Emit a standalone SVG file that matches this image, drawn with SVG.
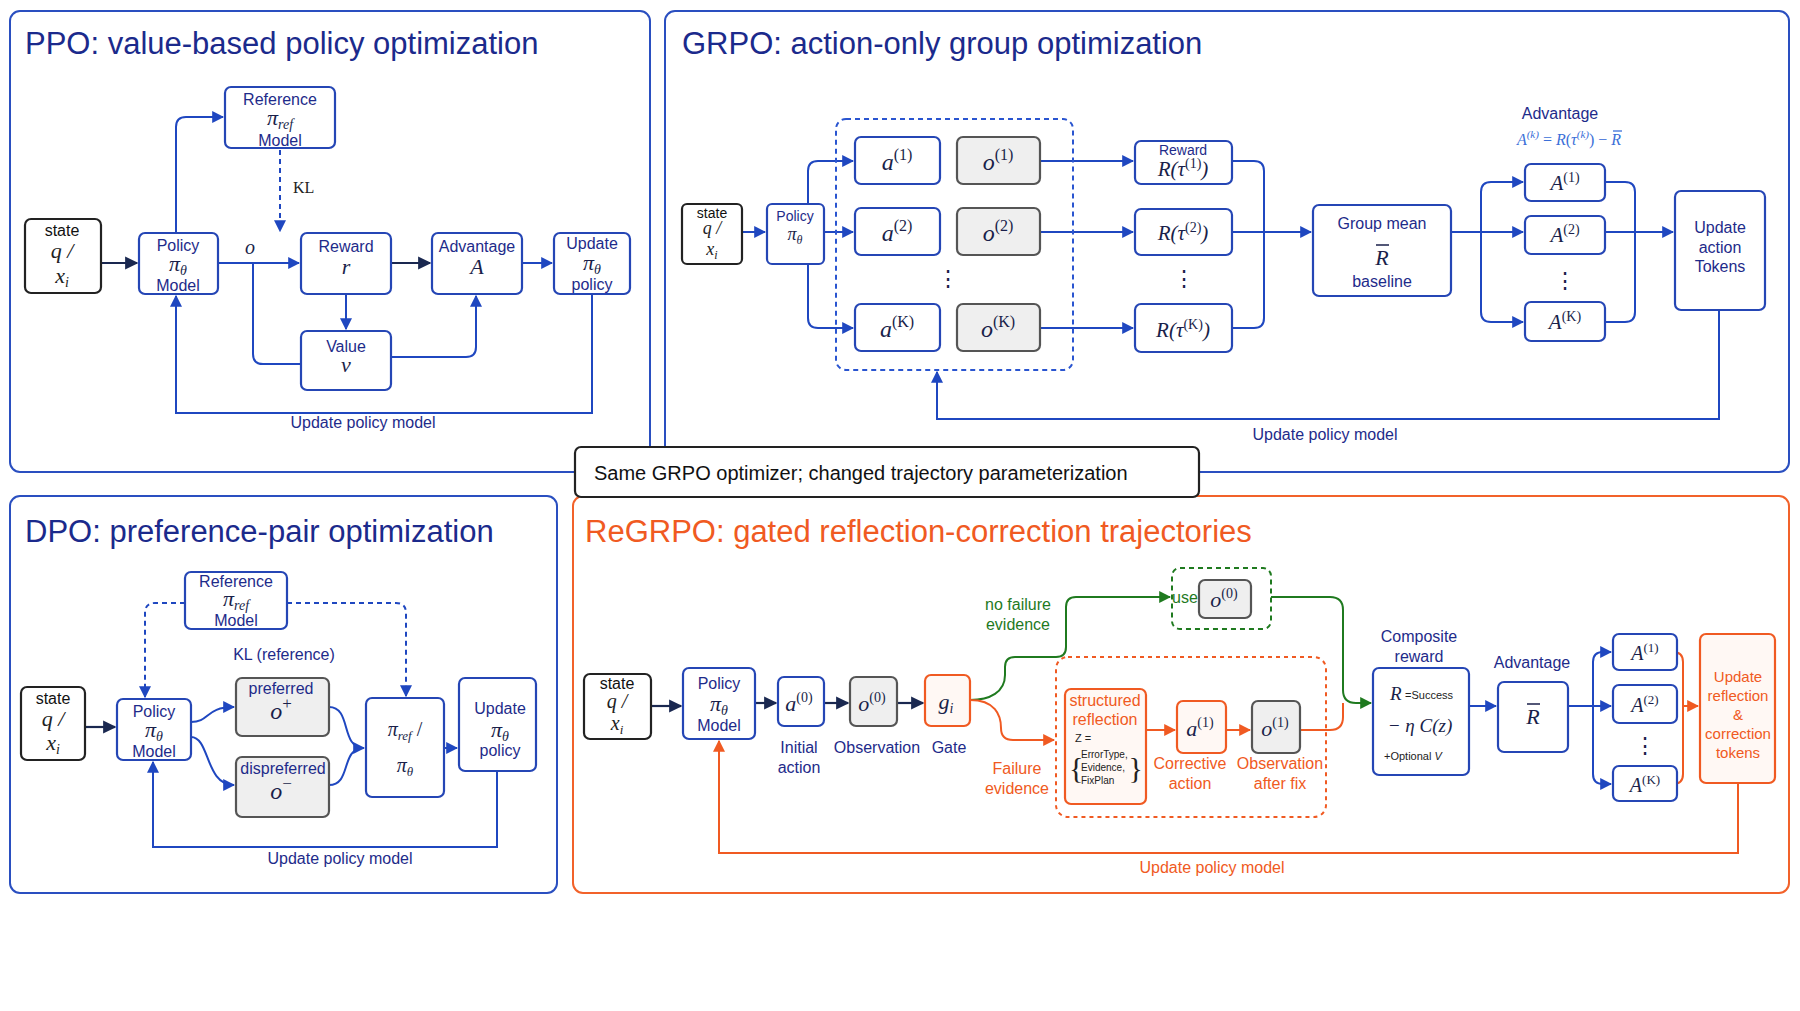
<svg xmlns="http://www.w3.org/2000/svg" width="1800" height="1011" viewBox="0 0 1800 1011">
<style>
.pn{fill:#fff;stroke:#2a4fc0;stroke-width:2}
.po{fill:#fff;stroke:#f2622a;stroke-width:2}
.bx{fill:#fff;stroke:#2546b5;stroke-width:2.2}
.gy{fill:#efefef;stroke:#555;stroke-width:2.2}
.bk{fill:#fff;stroke:#222;stroke-width:2.2}
.ob{fill:#fff8f4;stroke:#f05a22;stroke-width:2.2}
.title{font-family:"Liberation Sans",Arial,sans-serif;font-size:31px;fill:#1b2a8c}
.t{font-family:"Liberation Sans",Arial,sans-serif;font-size:16px;fill:#1e2b8a;text-anchor:middle}
.tk{font-family:"Liberation Sans",Arial,sans-serif;font-size:16px;fill:#111;text-anchor:middle}
.to{font-family:"Liberation Sans",Arial,sans-serif;font-size:16px;fill:#f05a22;text-anchor:middle}
.tg{font-family:"Liberation Sans",Arial,sans-serif;font-size:16px;fill:#1f7a1f;text-anchor:middle}
.m{font-family:"Liberation Serif","Times New Roman",serif;font-style:italic;font-size:22px;fill:#1a1f4a;text-anchor:middle}
.c{fill:none;stroke:#1f47c0;stroke-width:2}
.cd{fill:none;stroke:#1f47c0;stroke-width:2;stroke-dasharray:5 4}
.ck{fill:none;stroke:#1a2850;stroke-width:2.2}
.co{fill:none;stroke:#f05a22;stroke-width:2}
.cg{fill:none;stroke:#1f7a1f;stroke-width:2}
.bar{stroke:#1a1f4a;stroke-width:1.5}
</style>
<defs>
<marker id="ab" viewBox="0 0 10 10" refX="9" refY="5" markerWidth="6" markerHeight="6" orient="auto"><path d="M0,0L10,5L0,10z" fill="#1f47c0"/></marker>
<marker id="ak" viewBox="0 0 10 10" refX="9" refY="5" markerWidth="6" markerHeight="6" orient="auto"><path d="M0,0L10,5L0,10z" fill="#1a2850"/></marker>
<marker id="ao" viewBox="0 0 10 10" refX="9" refY="5" markerWidth="6" markerHeight="6" orient="auto"><path d="M0,0L10,5L0,10z" fill="#f05a22"/></marker>
<marker id="ag" viewBox="0 0 10 10" refX="9" refY="5" markerWidth="6" markerHeight="6" orient="auto"><path d="M0,0L10,5L0,10z" fill="#1f7a1f"/></marker>
</defs>
<rect width="1800" height="1011" fill="#fff"/>

<g id="panels">
<rect class="pn" x="10" y="11" width="640" height="461" rx="10"/>
<rect class="pn" x="665" y="11" width="1124" height="461" rx="10"/>
<rect class="pn" x="10" y="496" width="547" height="397" rx="10"/>
<rect class="po" x="573" y="496" width="1216" height="397" rx="10"/>
<text class="title" x="25" y="54">PPO: value-based policy optimization</text>
<text class="title" x="682" y="54">GRPO: action-only group optimization</text>
<text class="title" x="25" y="542">DPO: preference-pair optimization</text>
<text class="title" x="585" y="542" style="fill:#f05a22">ReGRPO: gated reflection-correction trajectories</text>
</g>
<g id="banner">
<rect x="575" y="447" width="624" height="50" rx="6" fill="#fff" stroke="#222" stroke-width="2.2"/>
<text x="594" y="480" style="font-family:'Liberation Sans',Arial,sans-serif;font-size:20px;fill:#111">Same GRPO optimizer; changed trajectory parameterization</text>
</g>

<g id="connectors">
<path class="ck" d="M101,263H137" marker-end="url(#ak)"/>
<path class="c" d="M176,233V127q0,-10 10,-10H223" marker-end="url(#ab)"/>
<path class="cd" d="M280,150V231" marker-end="url(#ab)"/>
<path class="c" d="M218,263H299" marker-end="url(#ab)"/>
<path class="c" d="M253,263V354q0,10 10,10H301"/>
<path class="c" d="M346,294V329" marker-end="url(#ab)"/>
<path class="ck" d="M391,263H430" marker-end="url(#ak)"/>
<path class="c" d="M391,357H466q10,0 10,-10V296" marker-end="url(#ab)"/>
<path class="c" d="M522,263H552" marker-end="url(#ab)"/>
<path class="c" d="M592,294V413H176V296" marker-end="url(#ab)"/>
<path class="c" d="M742,232H765" marker-end="url(#ab)"/>
<path class="c" d="M808,204V171q0,-10 10,-10H853" marker-end="url(#ab)"/>
<path class="c" d="M824,232H853" marker-end="url(#ab)"/>
<path class="c" d="M808,264V318q0,10 10,10H853" marker-end="url(#ab)"/>
<path class="c" d="M1040,161H1133" marker-end="url(#ab)"/>
<path class="c" d="M1040,232H1133" marker-end="url(#ab)"/>
<path class="c" d="M1040,328H1133" marker-end="url(#ab)"/>
<path class="c" d="M1232,161H1254q10,0 10,10V318q0,10 -10,10H1232"/>
<path class="c" d="M1232,232H1311" marker-end="url(#ab)"/>
<path class="c" d="M1451,232H1523" marker-end="url(#ab)"/>
<path class="c" d="M1523,182H1491q-10,0 -10,10V312q0,10 10,10H1523" marker-end="url(#ab)"/>
<path class="c" d="M1491,182H1523" marker-end="url(#ab)"/>
<path class="c" d="M1605,182H1625q10,0 10,10V312q0,10 -10,10H1605"/>
<path class="c" d="M1605,232H1673" marker-end="url(#ab)"/>
<path class="c" d="M1719,310V419H937V372" marker-end="url(#ab)"/>
<path class="ck" d="M85,727H115" marker-end="url(#ak)"/>
<path class="cd" d="M185,603H155q-10,0 -10,10V697" marker-end="url(#ab)"/>
<path class="cd" d="M287,603H396q10,0 10,10V696" marker-end="url(#ab)"/>
<path class="c" d="M191,722C210,722 205,707 234,707" marker-end="url(#ab)"/>
<path class="c" d="M191,737C210,737 205,785 234,785" marker-end="url(#ab)"/>
<path class="c" d="M329,707C352,707 340,748 364,748" marker-end="url(#ab)"/>
<path class="c" d="M329,785C352,785 340,748 364,748"/>
<path class="c" d="M444,748H457" marker-end="url(#ab)"/>
<path class="c" d="M497,771V847H153V762" marker-end="url(#ab)"/>
<path class="ck" d="M651,706H681" marker-end="url(#ak)"/>
<path class="ck" d="M755,703H776" marker-end="url(#ak)"/>
<path class="ck" d="M824,703H848" marker-end="url(#ak)"/>
<path class="ck" d="M897,703H923" marker-end="url(#ak)"/>
<path class="cg" d="M970,700C990,700 1005,692 1005,675V667q0,-10 10,-10H1056q10,0 10,-10V607q0,-10 10,-10H1170" marker-end="url(#ag)"/>
<path class="cg" d="M1271,597H1330q13,0 13,13V690q0,13 13,13H1371" marker-end="url(#ag)"/>
<path class="co" d="M970,700C995,700 1001,715 1001,728q0,12 12,12H1054" marker-end="url(#ao)"/>
<path class="co" d="M1146,730H1175" marker-end="url(#ao)"/>
<path class="co" d="M1226,730H1250" marker-end="url(#ao)"/>
<path class="co" d="M1300,730H1330q13,0 13,-13V703"/>
<path class="c" d="M1469,706H1496" marker-end="url(#ab)"/>
<path class="c" d="M1568,706H1611" marker-end="url(#ab)"/>
<path class="c" d="M1611,652H1603q-10,0 -10,10V774q0,10 10,10H1611" marker-end="url(#ab)"/>
<path class="c" d="M1600,652H1611" marker-end="url(#ab)"/>
<path class="co" d="M1677,652H1673q10,0 10,10V774q0,10 -10,10H1677"/>
<path class="co" d="M1683,706H1698" marker-end="url(#ao)"/>
<path class="co" d="M1738,783V853H719V741" marker-end="url(#ao)"/>
</g>

<g id="edge-labels">
<text class="m" x="250" y="254" style="font-size:20px">o</text>
<text x="293" y="193" style="font-family:'Liberation Serif',serif;font-size:16px;fill:#222">KL</text>
<text class="t" x="363" y="428">Update policy model</text>
<text class="t" x="1325" y="440">Update policy model</text>
<text class="t" x="284" y="660">KL (reference)</text>
<text class="t" x="340" y="864">Update policy model</text>
<text class="to" x="1212" y="873">Update policy model</text>
<text class="tg" x="1018" y="610">no failure</text>
<text class="tg" x="1018" y="630">evidence</text>
<text class="to" x="1017" y="774">Failure</text>
<text class="to" x="1017" y="794">evidence</text>
<text class="t" x="799" y="753">Initial</text>
<text class="t" x="799" y="773">action</text>
<text class="t" x="877" y="753">Observation</text>
<text class="t" x="949" y="753">Gate</text>
<text class="to" x="1190" y="769">Corrective</text>
<text class="to" x="1190" y="789">action</text>
<text class="to" x="1280" y="769">Observation</text>
<text class="to" x="1280" y="789">after fix</text>
<text class="t" x="1419" y="642">Composite</text>
<text class="t" x="1419" y="662">reward</text>
<text class="t" x="1532" y="668">Advantage</text>
<text class="t" x="1560" y="119">Advantage</text>
<text class="m" x="1569" y="145" style="font-size:16px;fill:#3b6fd8"><tspan>A</tspan><tspan font-size="11" dy="-7">(k)</tspan><tspan dy="7" font-style="normal"> = </tspan><tspan>R</tspan><tspan font-style="normal">(</tspan><tspan>τ</tspan><tspan font-size="11" dy="-7">(k)</tspan><tspan dy="7" font-style="normal">) − </tspan><tspan>R</tspan></text>
<line x1="1613" y1="131" x2="1622" y2="131" stroke="#3b6fd8" stroke-width="1.3"/>
</g>

<g id="ppo-state"><rect class="bk" x="25" y="219" width="76" height="74" rx="6"/><text class="tk" x="62" y="236">state</text><text class="m" x="62" y="258" style="fill:#222">q /</text><text class="m" x="62" y="283" style="fill:#222">x<tspan font-size="14" dy="4">i</tspan></text></g>
<g id="ppo-policy"><rect class="bx" x="139" y="233" width="79" height="61" rx="6"/><text class="t" x="178" y="251">Policy</text><text class="m" x="178" y="271">π<tspan font-size="14" dy="4">θ</tspan></text><text class="t" x="178" y="291">Model</text></g>
<g id="ppo-ref"><rect class="bx" x="225" y="87" width="110" height="61" rx="6"/><text class="t" x="280" y="105">Reference</text><text class="m" x="280" y="125">π<tspan font-size="14" dy="4">ref</tspan></text><text class="t" x="280" y="146">Model</text></g>
<g id="ppo-reward"><rect class="bx" x="301" y="233" width="90" height="61" rx="6"/><text class="t" x="346" y="252">Reward</text><text class="m" x="346" y="274">r</text></g>
<g id="ppo-adv"><rect class="bx" x="432" y="233" width="90" height="61" rx="6"/><text class="t" x="477" y="252">Advantage</text><text class="m" x="477" y="274">A</text></g>
<g id="ppo-update"><rect class="bx" x="554" y="233" width="76" height="61" rx="6"/><text class="t" x="592" y="249">Update</text><text class="m" x="592" y="270">π<tspan font-size="14" dy="4">θ</tspan></text><text class="t" x="592" y="290">policy</text></g>
<g id="ppo-value"><rect class="bx" x="301" y="331" width="90" height="59" rx="6"/><text class="t" x="346" y="352">Value</text><text class="m" x="346" y="372">v</text></g>

<g id="grpo-state"><rect class="bk" x="682" y="204" width="60" height="60" rx="5"/><text class="tk" x="712" y="218" style="font-size:14px">state</text><text class="m" x="712" y="234" style="fill:#222;font-size:18px">q /</text><text class="m" x="712" y="255" style="fill:#222;font-size:18px">x<tspan font-size="12" dy="4">i</tspan></text></g>
<g id="grpo-policy"><rect class="bx" x="767" y="204" width="57" height="60" rx="5"/><text class="t" x="795" y="221" style="font-size:14px">Policy</text><text class="m" x="795" y="240" style="font-size:18px">π<tspan font-size="12" dy="4">θ</tspan></text></g>
<g id="grpo-group"><rect x="836" y="119" width="237" height="251" rx="10" fill="none" stroke="#2a55d0" stroke-width="2" stroke-dasharray="5 4"/></g>
<g id="grpo-a1"><rect class="bx" x="855" y="137" width="85" height="47" rx="6"/><text class="m" x="897" y="170" style="font-size:24px">a<tspan font-size="16" dy="-10" font-style="normal">(1)</tspan></text></g>
<g id="grpo-a2"><rect class="bx" x="855" y="208" width="85" height="47" rx="6"/><text class="m" x="897" y="241" style="font-size:24px">a<tspan font-size="16" dy="-10" font-style="normal">(2)</tspan></text></g>
<g id="grpo-aK"><rect class="bx" x="855" y="304" width="85" height="47" rx="6"/><text class="m" x="897" y="337" style="font-size:24px">a<tspan font-size="16" dy="-10" font-style="normal">(K)</tspan></text></g>
<g id="grpo-o1"><rect class="gy" x="957" y="137" width="83" height="47" rx="6"/><text class="m" x="998" y="170" style="font-size:24px">o<tspan font-size="16" dy="-10" font-style="normal">(1)</tspan></text></g>
<g id="grpo-o2"><rect class="gy" x="957" y="208" width="83" height="47" rx="6"/><text class="m" x="998" y="241" style="font-size:24px">o<tspan font-size="16" dy="-10" font-style="normal">(2)</tspan></text></g>
<g id="grpo-oK"><rect class="gy" x="957" y="304" width="83" height="47" rx="6"/><text class="m" x="998" y="337" style="font-size:24px">o<tspan font-size="16" dy="-10" font-style="normal">(K)</tspan></text></g>
<text class="m" x="948" y="286" style="font-style:normal">⋮</text>
<g id="grpo-r1"><rect class="bx" x="1135" y="141" width="97" height="43" rx="6"/><text class="t" x="1183" y="155" style="font-size:14px">Reward</text><text class="m" x="1183" y="176" style="font-size:21px">R(τ<tspan font-size="14" dy="-8" font-style="normal">(1)</tspan><tspan dy="8">)</tspan></text></g>
<g id="grpo-r2"><rect class="bx" x="1135" y="209" width="97" height="46" rx="6"/><text class="m" x="1183" y="240" style="font-size:21px">R(τ<tspan font-size="14" dy="-8" font-style="normal">(2)</tspan><tspan dy="8">)</tspan></text></g>
<g id="grpo-rK"><rect class="bx" x="1135" y="304" width="97" height="48" rx="6"/><text class="m" x="1183" y="337" style="font-size:21px">R(τ<tspan font-size="14" dy="-8" font-style="normal">(K)</tspan><tspan dy="8">)</tspan></text></g>
<text class="m" x="1184" y="286" style="font-style:normal">⋮</text>
<g id="grpo-mean"><rect class="bx" x="1313" y="205" width="138" height="91" rx="6"/><text class="t" x="1382" y="229">Group mean</text><text class="m" x="1382" y="265">R</text><line class="bar" x1="1376" y1="245" x2="1389" y2="245"/><text class="t" x="1382" y="287">baseline</text></g>
<g id="grpo-A1"><rect class="bx" x="1525" y="164" width="80" height="37" rx="6"/><text class="m" x="1565" y="190" style="font-size:21px">A<tspan font-size="14" dy="-8" font-style="normal">(1)</tspan></text></g>
<g id="grpo-A2"><rect class="bx" x="1525" y="216" width="80" height="38" rx="6"/><text class="m" x="1565" y="242" style="font-size:21px">A<tspan font-size="14" dy="-8" font-style="normal">(2)</tspan></text></g>
<g id="grpo-AK"><rect class="bx" x="1525" y="302" width="80" height="39" rx="6"/><text class="m" x="1565" y="329" style="font-size:21px">A<tspan font-size="14" dy="-8" font-style="normal">(K)</tspan></text></g>
<text class="m" x="1565" y="288" style="font-style:normal">⋮</text>
<g id="grpo-update"><rect class="bx" x="1675" y="191" width="90" height="119" rx="6"/><text class="t" x="1720" y="233">Update</text><text class="t" x="1720" y="253">action</text><text class="t" x="1720" y="272">Tokens</text></g>

<g id="dpo-state"><rect class="bk" x="21" y="687" width="64" height="73" rx="6"/><text class="tk" x="53" y="704">state</text><text class="m" x="53" y="726" style="fill:#222">q /</text><text class="m" x="53" y="750" style="fill:#222">x<tspan font-size="14" dy="4">i</tspan></text></g>
<g id="dpo-policy"><rect class="bx" x="117" y="699" width="74" height="61" rx="6"/><text class="t" x="154" y="717">Policy</text><text class="m" x="154" y="737">π<tspan font-size="14" dy="4">θ</tspan></text><text class="t" x="154" y="757">Model</text></g>
<g id="dpo-ref"><rect class="bx" x="185" y="572" width="102" height="57" rx="6"/><text class="t" x="236" y="587">Reference</text><text class="m" x="236" y="606">π<tspan font-size="14" dy="4">ref</tspan></text><text class="t" x="236" y="626">Model</text></g>
<g id="dpo-pref"><rect class="gy" x="236" y="678" width="93" height="58" rx="6"/><text class="t" x="281" y="694">preferred</text><text class="m" x="281" y="719" style="font-size:24px">o<tspan font-size="17" dy="-10" font-style="normal">+</tspan></text></g>
<g id="dpo-dispref"><rect class="gy" x="236" y="757" width="93" height="60" rx="6"/><text class="t" x="283" y="774">dispreferred</text><text class="m" x="281" y="799" style="font-size:24px">o<tspan font-size="17" dy="-10" font-style="normal">−</tspan></text></g>
<g id="dpo-ratio"><rect class="bx" x="366" y="698" width="78" height="99" rx="6"/><text class="m" x="405" y="736" style="font-size:20px">π<tspan font-size="13" dy="4">ref</tspan><tspan dy="-4" font-style="normal"> /</tspan></text><text class="m" x="405" y="772" style="font-size:20px">π<tspan font-size="13" dy="4">θ</tspan></text></g>
<g id="dpo-update"><rect class="bx" x="459" y="678" width="77" height="93" rx="6"/><text class="t" x="500" y="714">Update</text><text class="m" x="500" y="737">π<tspan font-size="14" dy="4">θ</tspan></text><text class="t" x="500" y="756">policy</text></g>

<g id="re-state"><rect class="bk" x="584" y="674" width="67" height="65" rx="6"/><text class="tk" x="617" y="689">state</text><text class="m" x="617" y="708" style="fill:#222;font-size:20px">q /</text><text class="m" x="617" y="730" style="fill:#222;font-size:20px">x<tspan font-size="13" dy="4">i</tspan></text></g>
<g id="re-policy"><rect class="bx" x="683" y="668" width="72" height="71" rx="6"/><text class="t" x="719" y="689">Policy</text><text class="m" x="719" y="711">π<tspan font-size="14" dy="4">θ</tspan></text><text class="t" x="719" y="731">Model</text></g>
<g id="re-a0"><rect class="bx" x="778" y="677" width="46" height="49" rx="6"/><text class="m" x="799" y="711" style="font-size:22px">a<tspan font-size="14" dy="-9" font-style="normal">(0)</tspan></text></g>
<g id="re-o0"><rect class="gy" x="850" y="677" width="47" height="49" rx="6"/><text class="m" x="872" y="711" style="font-size:22px">o<tspan font-size="14" dy="-9" font-style="normal">(0)</tspan></text></g>
<g id="re-gate"><rect class="ob" x="925" y="675" width="45" height="51" rx="6"/><text class="m" x="946" y="709" style="font-size:22px">g<tspan font-size="14" dy="4">i</tspan></text></g>
<g id="re-use"><rect x="1172" y="568" width="99" height="61" rx="8" fill="none" stroke="#1f7a1f" stroke-width="2" stroke-dasharray="5 4"/><text class="tg" x="1185" y="603">use</text><rect class="gy" x="1199" y="580" width="52" height="38" rx="6"/><text class="m" x="1224" y="607" style="font-size:22px">o<tspan font-size="14" dy="-9" font-style="normal">(0)</tspan></text></g>
<g id="re-fail"><rect x="1056" y="657" width="270" height="160" rx="12" fill="none" stroke="#f05a22" stroke-width="2" stroke-dasharray="4 4"/></g>
<g id="re-reflect"><rect class="ob" x="1065" y="689" width="81" height="115" rx="6"/><text class="to" x="1105" y="706">structured</text><text class="to" x="1105" y="725">reflection</text><text x="1075" y="742" style="font-family:'Liberation Sans',sans-serif;font-size:11px;fill:#222">Z =</text><text x="1069" y="778" style="font-family:'Liberation Serif',serif;font-size:30px;fill:#222">{</text><text x="1143" y="778" style="font-family:'Liberation Serif',serif;font-size:30px;fill:#222" text-anchor="end">}</text><text x="1081" y="758" style="font-family:'Liberation Sans',sans-serif;font-size:10px;fill:#222">ErrorType,</text><text x="1081" y="771" style="font-family:'Liberation Sans',sans-serif;font-size:10px;fill:#222">Evidence,</text><text x="1081" y="784" style="font-family:'Liberation Sans',sans-serif;font-size:10px;fill:#222">FixPlan</text></g>
<g id="re-a1"><rect class="ob" x="1177" y="701" width="49" height="52" rx="6"/><text class="m" x="1200" y="736" style="font-size:22px">a<tspan font-size="14" dy="-9" font-style="normal">(1)</tspan></text></g>
<g id="re-o1"><rect class="gy" x="1252" y="701" width="48" height="52" rx="6"/><text class="m" x="1275" y="736" style="font-size:22px">o<tspan font-size="14" dy="-9" font-style="normal">(1)</tspan></text></g>
<g id="re-composite"><rect class="bx" x="1373" y="668" width="96" height="107" rx="6"/><text class="m" x="1390" y="700" style="font-size:19px;text-anchor:start">R</text><text x="1405" y="699" style="font-family:'Liberation Sans',sans-serif;font-size:11px;fill:#222">=Success</text><text class="m" x="1420" y="732" style="font-size:19px">− η C(z)</text><text x="1384" y="760" style="font-family:'Liberation Sans',sans-serif;font-size:11px;fill:#222">+Optional <tspan font-style="italic">V</tspan></text></g>
<g id="re-rbar"><rect class="bx" x="1498" y="682" width="70" height="70" rx="6"/><text class="m" x="1533" y="724">R</text><line class="bar" x1="1527" y1="704" x2="1540" y2="704"/></g>
<g id="re-A1"><rect class="bx" x="1613" y="634" width="64" height="36" rx="6"/><text class="m" x="1645" y="660" style="font-size:20px">A<tspan font-size="13" dy="-8" font-style="normal">(1)</tspan></text></g>
<g id="re-A2"><rect class="bx" x="1613" y="685" width="64" height="38" rx="6"/><text class="m" x="1645" y="712" style="font-size:20px">A<tspan font-size="13" dy="-8" font-style="normal">(2)</tspan></text></g>
<g id="re-AK"><rect class="bx" x="1613" y="766" width="64" height="35" rx="6"/><text class="m" x="1645" y="792" style="font-size:20px">A<tspan font-size="13" dy="-8" font-style="normal">(K)</tspan></text></g>
<text class="m" x="1645" y="753" style="font-style:normal">⋮</text>
<g id="re-update"><rect class="ob" x="1700" y="634" width="75" height="149" rx="6"/><text class="to" x="1738" y="682" style="font-size:15px">Update</text><text class="to" x="1738" y="701" style="font-size:15px">reflection</text><text class="to" x="1738" y="720" style="font-size:15px">&amp;</text><text class="to" x="1738" y="739" style="font-size:15px">correction</text><text class="to" x="1738" y="758" style="font-size:15px">tokens</text></g>
</svg>
